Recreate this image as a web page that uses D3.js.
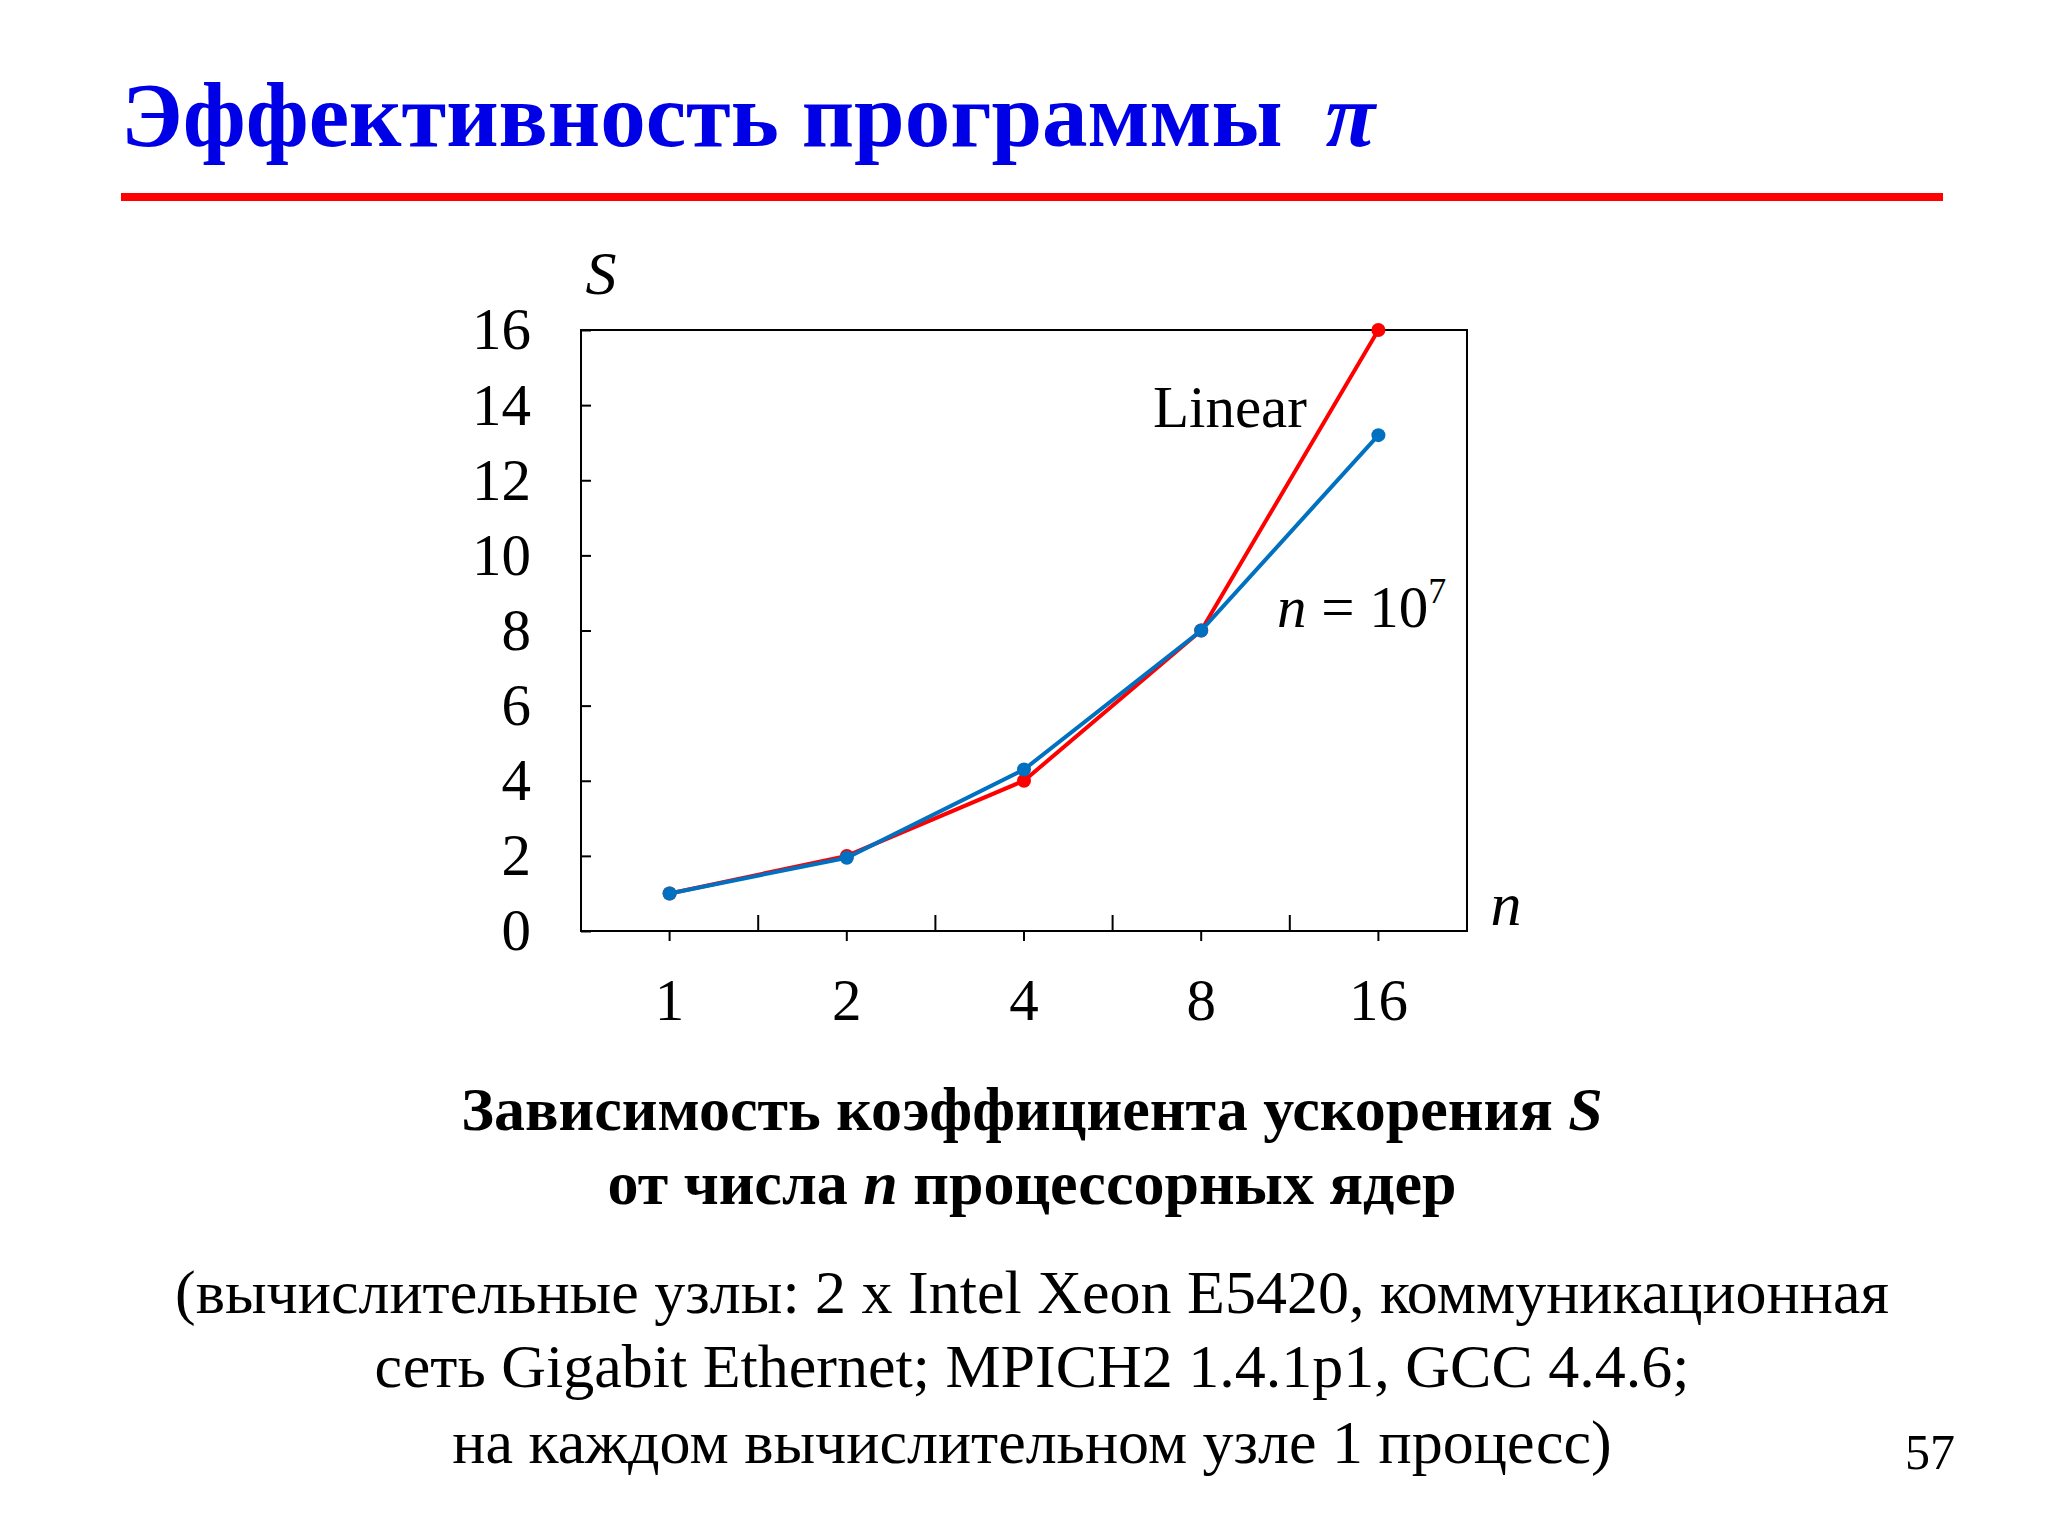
<!DOCTYPE html><html><head><meta charset="utf-8">
<script src="https://cdn.jsdelivr.net/npm/d3@7"></script>
<style>body{margin:0;background:#fff}svg{font-family:"Liberation Serif","Times New Roman",serif}</style></head><body>
<svg id="c" width="2048" height="1536"></svg>
<script>
const categories=["1","2","4","8","16"];
const linear=[1,2,4,8,16];
const measured=[1,1.95,4.3,8,13.2];
const yTicks=[0,2,4,6,8,10,12,14,16];
const svg=d3.select("#c");
const L=581,R=1467,T=330,B=931;
const x=d3.scaleBand().domain(categories).range([L,R]);
const y=d3.scaleLinear().domain([0,16]).range([B,T]);
svg.append("text").attr("x",121).attr("y",146).attr("fill","#0000e6").attr("font-size",91).attr("font-weight","bold").text("Эффективность программы ").append("tspan").attr("font-style","italic").attr("dx",20).text("π");
svg.append("rect").attr("x",121).attr("y",193).attr("width",1822).attr("height",8).attr("fill","#f00");
svg.append("rect").attr("x",L).attr("y",T).attr("width",R-L).attr("height",B-T).attr("fill","none").attr("stroke","#000").attr("stroke-width",2);
const ya=svg.append("g").attr("transform",`translate(${L},0)`).call(d3.axisLeft(y).tickValues(yTicks).tickSize(-10).tickPadding(50));
ya.select(".domain").remove();
ya.selectAll("text").attr("font-size",59).attr("font-family","Liberation Serif").attr("fill","#000");
ya.selectAll("line").attr("stroke-width",2);
const g=svg.append("g");
categories.forEach(c=>{const cx=x(c)+x.bandwidth()/2;
 g.append("line").attr("x1",cx).attr("x2",cx).attr("y1",B).attr("y2",B+10).attr("stroke","#000").attr("stroke-width",2);
 g.append("text").attr("x",cx).attr("y",1020).attr("text-anchor","middle").attr("font-size",59).text(c);});
categories.slice(1).forEach(c=>{const bx=x(c);g.append("line").attr("x1",bx).attr("x2",bx).attr("y1",B).attr("y2",B-16).attr("stroke","#000").attr("stroke-width",2);});
const cxf=(d,i)=>x(categories[i])+x.bandwidth()/2;
function series(data,col){
 svg.append("path").datum(data).attr("fill","none").attr("stroke",col).attr("stroke-width",4).attr("d",d3.line().x(cxf).y(d=>y(d)));
 svg.append("g").selectAll("circle").data(data).join("circle").attr("cx",cxf).attr("cy",d=>y(d)).attr("r",7).attr("fill",col);
}
series(linear,"#f00");series(measured,"#0070c0");
svg.append("text").attr("x",1153).attr("y",427).attr("font-size",59).text("Linear");
const t=svg.append("text").attr("x",1277).attr("y",627).attr("font-size",59);
t.append("tspan").attr("font-style","italic").text("n");t.append("tspan").text(" = 10");
t.append("tspan").attr("font-size",36).attr("dy",-24).text("7");
svg.append("text").attr("x",601).attr("y",294).attr("font-size",62).attr("font-style","italic").attr("text-anchor","middle").text("S");
svg.append("text").attr("x",1506).attr("y",925).attr("font-size",62).attr("font-style","italic").attr("text-anchor","middle").text("n");
const c1=svg.append("text").attr("x",1032).attr("y",1130).attr("text-anchor","middle").attr("font-size",62).attr("font-weight","bold");
c1.append("tspan").text("Зависимость коэффициента ускорения ");c1.append("tspan").attr("font-style","italic").text("S");
const c2=svg.append("text").attr("x",1032).attr("y",1204).attr("text-anchor","middle").attr("font-size",62).attr("font-weight","bold");
c2.append("tspan").text("от числа ");c2.append("tspan").attr("font-style","italic").text("n");c2.append("tspan").text(" процессорных ядер");
["(вычислительные узлы: 2 x Intel Xeon E5420, коммуникационная","сеть Gigabit Ethernet; MPICH2 1.4.1p1, GCC 4.4.6;","на каждом вычислительном узле 1 процесс)"].forEach((s,i)=>
 svg.append("text").attr("x",1032).attr("y",[1313,1387,1463][i]).attr("text-anchor","middle").attr("font-size",62).text(s));
svg.append("text").attr("x",1930).attr("y",1469).attr("text-anchor","middle").attr("font-size",50).text("57");
</script></body></html>
